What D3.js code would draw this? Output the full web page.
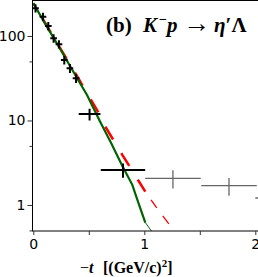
<!DOCTYPE html>
<html>
<head>
<meta charset="utf-8">
<script src="https://cdn.jsdelivr.net/npm/d3@7"></script>
<style>
  body { margin: 0; background: #fff; }
  svg { display: block; }
</style>
</head>
<body>
<div id="chart"></div>
<script>
// measured points (black = this fit, grey = higher -t)
var tVals   = [0.02, 0.087, 0.135, 0.183, 0.231, 0.279, 0.33, 0.385, 0.507, 0.808, 1.258, 1.763, 2.25];
var tErr    = [0.03, 0.03, 0.03, 0.03, 0.03, 0.03, 0.03, 0.03, 0.098, 0.2, 0.25, 0.25, 0.25];
var sigma   = [213, 169, 131, 94, 80, 52, 41.5, 31.5, 11.9, 2.6, 2.07, 1.69, 1.21];
var sigErr  = [24, 19, 15, 11, 9, 6, 5, 3.8, 1.9, 0.5, 0.5, 0.4, 0.3];
var grey    = [0, 0, 0, 0, 0, 0, 0, 0, 0, 0, 1, 1, 1];

// model curves
var greenT = [0, 0.1, 0.25, 0.4, 0.484, 0.6, 0.7, 0.8, 0.892, 0.95, 1.009];
var greenV = [244, 145, 67.3, 30.8, 20, 9.8, 5.45, 2.94, 1.73, 1.03, 0.62];
var greenT2 = [1.009, 1.075];
var greenV2 = [0.62, 0.47];
var redT = [0, 0.25, 0.4, 0.574, 0.649, 0.799, 0.949, 1.009];
var redV = [244, 69, 32.5, 13.3, 8.45, 3.98, 1.92, 1.44];
var redT2 = [1.009, 1.114, 1.228];
var redV2 = [1.44, 0.914, 0.58];

var xTicks = [0, 1, 2];
var xMinor = [0.5, 1.5];
var yTicks = [1, 10, 100];
var yMinor = [0.5, 5, 50];

var w = 258, h = 277;

var svg = d3.select("#chart").append("svg")
  .attr("width", w)
  .attr("height", h);

var x = d3.scaleLinear().domain([0, 2.1]).range([33.3, 33.3 + 2.1 * 111]);
var y = d3.scaleLog().domain([0.492, 263]).range([231, 0.5]);

svg.append("clipPath").attr("id", "clip")
  .append("rect")
  .attr("x", x(0) - 1).attr("y", y(263))
  .attr("width", x(2.1) - x(0) + 1).attr("height", y(0.492) - y(263));

var plot = svg.append("g").attr("clip-path", "url(#clip)");

function pts(ts, vs) { return ts.map(function(t, i) { return [t, vs[i]]; }); }
var line = d3.line()
  .x(function(d) { return x(d[0]); })
  .y(function(d) { return y(d[1]); });

// length along the red curve to where the first visible dash begins (t = 0.649)
var redPts = pts(redT, redV), runLen = 0;
for (var i = 1; i <= 4; i++) {
  runLen += Math.hypot(x(redPts[i][0]) - x(redPts[i-1][0]), y(redPts[i][1]) - y(redPts[i-1][1]));
}
var period = 31;
var offset = period - (runLen % period);

// red dashed model
plot.append("path").attr("d", line(redPts))
  .attr("fill", "none").attr("stroke", "#ff0000").attr("stroke-width", 2.5)
  .attr("stroke-dasharray", "15,16").attr("stroke-dashoffset", offset);
plot.append("path").attr("d", line(pts(redT2, redV2)))
  .attr("fill", "none").attr("stroke", "#ff0000").attr("stroke-width", 1.3)
  .attr("stroke-dasharray", "10,10").attr("stroke-dashoffset", 10);

// green solid model
plot.append("path").attr("d", line(pts(greenT, greenV)))
  .attr("fill", "none").attr("stroke", "#006400").attr("stroke-width", 2.2);
plot.append("path").attr("d", line(pts(greenT2, greenV2)))
  .attr("fill", "none").attr("stroke", "#006400").attr("stroke-width", 1);

// data crosses
var pg = plot.selectAll(".pt").data(tVals).enter().append("g").attr("class", "pt")
  .attr("stroke", function(d, i) { return grey[i] ? "#666" : "#000"; })
  .attr("stroke-width", function(d, i) { return grey[i] ? 1.3 : 2; });
pg.append("line")
  .attr("x1", function(d, i) { return x(d - tErr[i]); })
  .attr("x2", function(d, i) { return x(d + tErr[i]); })
  .attr("y1", function(d, i) { return y(sigma[i]); })
  .attr("y2", function(d, i) { return y(sigma[i]); });
pg.append("line")
  .attr("x1", function(d) { return x(d); })
  .attr("x2", function(d) { return x(d); })
  .attr("y1", function(d, i) { return y(sigma[i] - sigErr[i]); })
  .attr("y2", function(d, i) { return y(sigma[i] + sigErr[i]); });

// frame
svg.append("rect")
  .attr("x", 32.5).attr("y", 0.5)
  .attr("width", 240).attr("height", 230.5)
  .attr("fill", "none").attr("stroke", "#000").attr("stroke-width", 1);

// axes
svg.append("g").attr("transform", "translate(0,231)")
  .call(d3.axisBottom(x).tickValues(xTicks).tickFormat(d3.format("d")).tickSize(4).tickPadding(4));
svg.append("g").attr("transform", "translate(0,231)")
  .call(d3.axisBottom(x).tickValues(xMinor).tickFormat("").tickSize(4));
svg.append("g").attr("transform", "translate(32.5,0)")
  .call(d3.axisLeft(y).tickValues(yTicks).tickFormat(d3.format("d")).tickSize(5).tickPadding(2));
svg.append("g").attr("transform", "translate(32.5,0)")
  .call(d3.axisLeft(y).tickValues(yMinor).tickFormat("").tickSize(3));

svg.selectAll(".domain").remove();
svg.selectAll(".tick text")
  .attr("font-family", "DejaVu Sans").attr("font-size", 14).attr("fill", "#000");
svg.selectAll(".tick line").attr("stroke", "#333");

// x axis label
var xl = svg.append("g")
  .attr("font-family", "Liberation Serif").attr("font-size", 16).attr("font-weight", "bold");
xl.append("text").attr("x", 80).attr("y", 273)
  .call(function(t) {
    t.append("tspan").attr("font-weight", "normal").text("\u2212");
    t.append("tspan").attr("font-style", "italic").text("t");
  });
xl.append("text").attr("x", 103).attr("y", 273)
  .call(function(t) {
    t.append("tspan").text("[(GeV/c)");
    t.append("tspan").attr("dy", -6).attr("font-size", 11).text("2");
    t.append("tspan").attr("dy", 6).text("]");
  });

// title
var tg = svg.append("g")
  .attr("font-family", "Liberation Serif").attr("font-size", 21).attr("font-weight", "bold");
tg.append("text").attr("x", 106).attr("y", 31.5).text("(b)");
tg.append("text").attr("x", 143).attr("y", 31.5).attr("font-style", "italic")
  .call(function(t) {
    t.append("tspan").text("K");
    t.append("tspan").attr("dy", -8).attr("dx", 2).attr("font-size", 14).attr("font-style", "normal").text("\u2212");
    t.append("tspan").attr("dy", 8).text("p");
  });
tg.append("text").attr("x", 183).attr("y", 31.5).attr("font-weight", "normal").attr("font-size", 27).text("\u2192");
tg.append("text").attr("x", 214).attr("y", 31.5)
  .call(function(t) {
    t.append("tspan").attr("font-style", "italic").text("\u03b7");
    t.append("tspan").text("\u2032");
    t.append("tspan").text("\u039b");
  });
</script>
</body>
</html>
